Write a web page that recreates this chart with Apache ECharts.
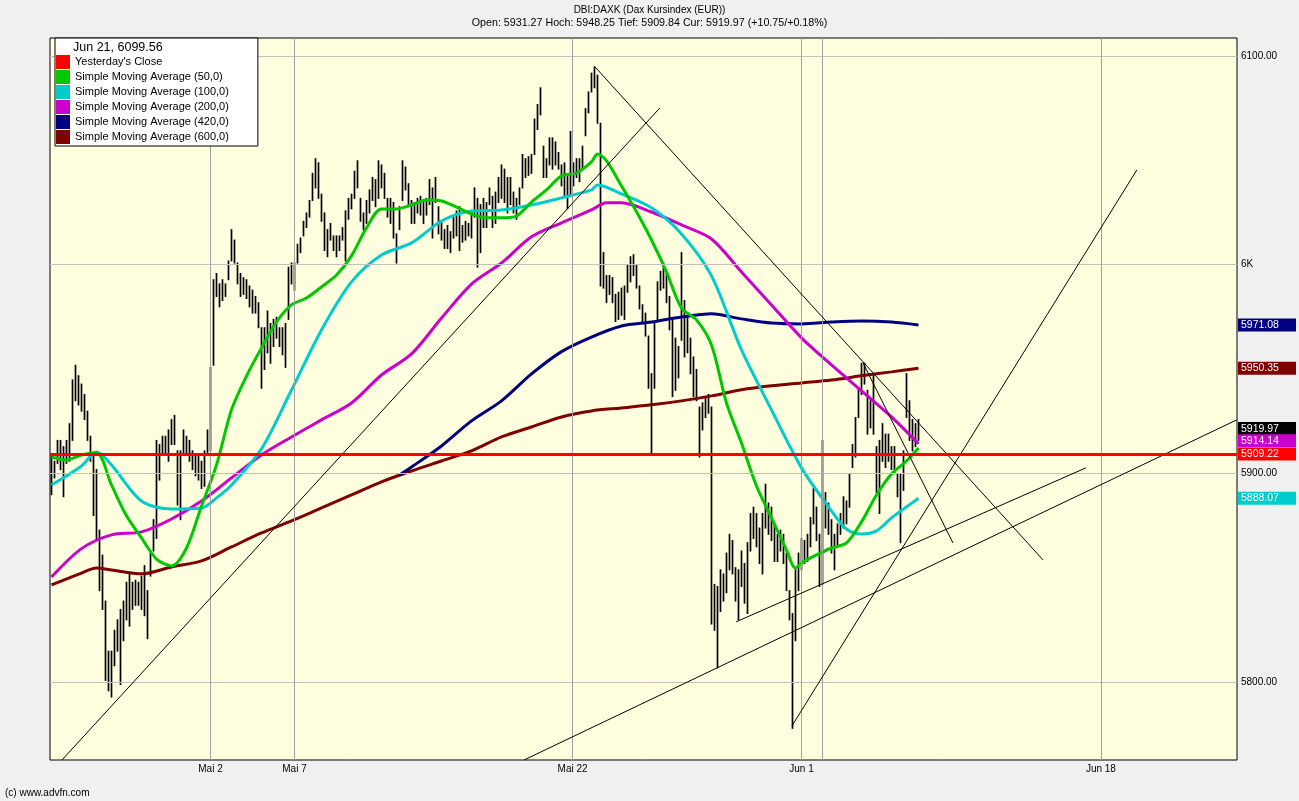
<!DOCTYPE html>
<html><head><meta charset="utf-8">
<script src="https://cdn.jsdelivr.net/npm/echarts@6/dist/echarts.min.js"></script>
<style>html,body{margin:0;padding:0;background:#f0f0f0;}#c{width:1299px;height:801px;}</style>
</head><body><div id="c"></div>
<script>
// ---------- DATA ----------
const chartTitle = 'DBI:DAXK (Dax Kursindex (EUR))';
const quoteLine = 'Open: 5931.27 Hoch: 5948.25 Tief: 5909.84 Cur: 5919.97 (+10.75/+0.18%)';
const legendHeader = 'Jun 21, 6099.56';
const footerText = '(c) www.advfn.com';

// hourly bars (index = bar number), high and low
const barHigh = [
5909,5906,5916,5916,5913,5916,5924,5945,5952,5947,
5943,5938,5930,5918,5909,5902,5873,5861,5839,5815,
5815,5825,5830,5835,5839,5848,5852,5848,5849,5848,
5851,5856,5844,5863,5878,5916,5914,5918,5918,5921,
5926,5928,5911,5911,5921,5918,5916,5911,5909,5909,
5906,5911,5921,5951,5993,5996,5991,5993,5991,6002,
6017,6012,6001,5996,5994,5993,5990,5988,5985,5982,
5970,5970,5978,5972,5974,5975,5970,5970,5972,5999,
6001,6001,6010,6013,6021,6025,6031,6044,6051,6049,
6034,6025,6017,6020,6014,6014,6014,6018,6026,6032,
6034,6045,6050,6032,6025,6031,6036,6042,6041,6050,
6048,6044,6032,6032,6030,6015,6028,6050,6047,6039,
6031,6030,6032,6033,6030,6032,6041,6037,6042,6028,
6021,6017,6019,6016,6023,6026,6028,6019,6021,6020,
6025,6037,6032,6029,6032,6030,6037,6033,6035,6042,
6048,6046,6042,6042,6035,6032,6037,6053,6051,6052,
6053,6070,6077,6085,6057,6051,6061,6061,6059,6054,
6048,6049,6043,6064,6049,6051,6051,6057,6075,6083,
6092,6095,6091,6068,6006,5995,5995,5994,5986,5987,
5989,5990,6000,6004,6005,6000,5990,5981,5977,5966,
5948,5973,5992,5997,6001,5996,5985,5974,5965,5961,
6006,5983,5975,5965,5956,5950,5932,5934,5937,5938,
5932,5847,5846,5854,5852,5862,5871,5868,5855,5854,
5863,5857,5867,5881,5884,5881,5874,5881,5895,5886,
5884,5876,5871,5873,5871,5862,5844,5833,5854,5862,
5869,5868,5871,5879,5893,5884,5871,5916,5891,5886,
5878,5871,5876,5881,5889,5887,5900,5914,5927,5941,
5953,5953,5940,5935,5948,5913,5916,5924,5919,5919,
5913,5913,5900,5900,5911,5948,5935,5926,5924,5926
];
const barLow = [
5890,5898,5905,5902,5889,5905,5906,5916,5935,5933,
5930,5926,5916,5906,5880,5868,5844,5835,5801,5796,
5793,5808,5815,5799,5820,5830,5827,5835,5837,5837,
5835,5832,5821,5851,5863,5869,5897,5909,5909,5906,
5914,5914,5885,5878,5909,5909,5906,5902,5899,5897,
5893,5894,5909,5911,5952,5985,5980,5983,5985,5993,
6002,6001,5991,5985,5986,5984,5980,5977,5977,5970,
5941,5950,5958,5953,5961,5965,5961,5957,5951,5974,
5991,5988,6001,6006,6014,6018,6023,6031,6037,6032,
6021,6007,6004,6012,6007,6004,6007,6012,6002,6022,
6027,6032,6037,6021,6017,6020,6025,6031,6028,6032,
6037,6032,6023,6020,6013,6001,6017,6031,6036,6028,
6020,6020,6025,6024,6020,6024,6029,6013,6030,6015,
6012,6008,6008,6006,6013,6014,6007,6011,6012,6014,
6013,6023,5999,6006,6018,6018,6029,6018,6020,6030,
6032,6030,6025,6029,6025,6022,6029,6037,6042,6043,
6044,6053,6065,6072,6042,6042,6048,6046,6048,6046,
6038,6033,6027,6033,6038,6042,6040,6046,6062,6073,
6083,6085,6068,5990,5989,5982,5986,5982,5973,5974,
5976,5974,5987,5992,5995,5989,5979,5973,5966,5941,
5910,5941,5973,5988,5989,5982,5969,5937,5940,5946,
5964,5956,5958,5948,5937,5935,5908,5921,5927,5929,
5828,5825,5807,5834,5839,5843,5854,5852,5839,5830,
5846,5838,5833,5863,5869,5865,5857,5852,5874,5871,
5868,5858,5858,5863,5857,5844,5830,5778,5820,5844,
5854,5857,5858,5865,5876,5868,5846,5847,5874,5871,
5862,5854,5865,5871,5874,5876,5884,5903,5908,5927,
5938,5943,5919,5922,5919,5891,5881,5906,5903,5906,
5902,5900,5889,5867,5892,5927,5916,5911,5913,5916
];

const sma50Idx = [0,5,10,15,20,25,30,35,40,45,50,55,60,65,70,75,80,85,90,95,100,105,110,115,120,125,130,135,140,145,150,155,160,165,170,175,180,182,185,190,195,200,205,210,215,220,225,230,235,240,245,248,250,255,260,265,270,275,280,285,289];
const sma50 = [5907.8,5906.4,5908.8,5909.8,5894.4,5879.6,5869.0,5858.9,5855.6,5864.2,5884.3,5904.0,5930.4,5946.6,5960.1,5972.5,5980.7,5984.0,5989.3,5995.0,6004.2,6017.6,6026.7,6026.7,6028.6,6031.0,6030.5,6027.6,6024.3,6022.4,6022.4,6023.3,6030.0,6035.8,6042.5,6043.9,6049.2,6053.0,6049.7,6037.7,6025.3,6011.8,5996.5,5979.2,5973.5,5961.5,5933.7,5914.5,5893.9,5878.6,5863.3,5854.6,5857.0,5860.9,5864.2,5866.6,5876.7,5889.6,5899.7,5905.9,5912.1];

const sma100Idx = [0,10,15,20,30,40,50,55,60,70,80,90,100,110,120,130,140,150,160,170,180,182,190,200,210,220,230,240,250,260,265,270,275,280,285,289];
const sma100 = [5894.4,5903.5,5910.2,5904.0,5886.7,5882.9,5883.4,5888.2,5894.4,5911.7,5939.9,5968.7,5991.7,6004.6,6010.4,6020.9,6025.7,6026.2,6028.6,6032.0,6035.8,6038.2,6033.9,6027.2,6014.7,5994.6,5959.1,5930.4,5902.6,5882.0,5873.3,5870.9,5872.4,5878.6,5883.9,5888.07];

const sma200Idx = [0,10,20,30,40,50,60,70,80,90,100,110,120,130,140,150,160,170,180,185,190,200,210,220,230,240,250,260,270,280,289];
const sma200 = [5850.3,5863.9,5870.5,5871.9,5878.1,5886.7,5897.8,5908.8,5917.4,5925.6,5933.7,5947.1,5957.2,5974.4,5990.7,6000.8,6013.3,6020.0,6026.2,6029.6,6029.6,6025.2,6019.0,6012.3,5996.5,5980.7,5964.9,5951.9,5939.5,5927.0,5914.14];

const sma420Idx = [116,120,130,140,150,160,170,180,190,200,210,220,230,240,250,260,270,280,289];
const sma420 = [5899.2,5903.0,5913.1,5925.1,5934.7,5947.6,5958.3,5965.3,5970.6,5972.5,5974.9,5976.4,5974.0,5972.0,5971.6,5972.5,5973.0,5972.5,5971.08];

const sma600Idx = [0,10,15,20,30,40,50,60,70,80,90,100,110,120,130,140,150,160,170,180,190,200,210,220,230,240,250,260,270,280,289];
const sma600 = [5846.5,5852.2,5854.6,5853.7,5851.8,5855.1,5858.0,5864.7,5871.4,5877.2,5883.4,5889.6,5895.9,5901.1,5905.9,5910.7,5917.4,5922.2,5927.0,5929.9,5931.3,5932.8,5934.7,5937.1,5940.0,5941.9,5943.3,5944.7,5946.7,5948.6,5950.35];

const prevClose = 5909.22;
const lastPrice = 5919.97;

// hand-drawn trend lines (bar index / price)
const trendStartBar   = [3.5, 181.2, 270.5, 246.8, 228.2, 157.5];
const trendStartPrice = [5762.6, 6094.7, 5952.9, 5778.9, 5828.8, 5762.6];
const trendEndBar     = [202.8, 330.5, 300.5, 361.8, 344.8, 395.1];
const trendEndPrice   = [6075.1, 5858.5, 5866.6, 6045.4, 5902.6, 5925.6];

// axis ticks
const yTicks = [5800, 5900, 6000, 6100];
const dayStartBars = [53, 81, 173.7, 250, 257, 349.8];
const dayLabels = ['Mai 2', 'Mai 7', 'Mai 22', 'Jun 1', '', 'Jun 18'];

// right-hand value tags
const tagValues = [5971.08, 5950.35, lastPrice, 5914.14, prevClose, 5888.07];
const tagColors = ['#000080', '#800000', '#000000', '#cc00cc', '#ff0000', '#00cccc'];
const tagShift  = [0, 0, -3, -3, 0, 0];

const names = ["Yesterday's Close", 'Simple Moving Average (50,0)', 'Simple Moving Average (100,0)',
  'Simple Moving Average (200,0)', 'Simple Moving Average (420,0)', 'Simple Moving Average (600,0)'];
const maColors = ['#00c800', '#00cccc', '#cc00cc', '#000080', '#800000'];

// ---------- CHART ----------
const FONT = 'Liberation Sans, Arial, sans-serif';
const xMin = -0.5, xMax = 395.17, yMin = 5762.6, yMax = 6108.6;
const pairs = (idx, vals) => idx.map((x, k) => [x, vals[k]]);

function maSeries(name, color, idx, vals) {
  return { name, type: 'line', data: pairs(idx, vals), showSymbol: false, smooth: 0.3, z: 3,
    lineStyle: { color, width: 3 }, itemStyle: { color }, silent: true };
}

const labelBars = dayStartBars.filter((b, k) => dayLabels[k] !== '');

const chart = echarts.init(document.getElementById('c'), null, { width: 1299, height: 801 });
chart.setOption({
  animation: false,
  backgroundColor: '#f0f0f0',
  textStyle: { fontFamily: FONT },
  title: [
    { text: chartTitle, left: 'center', top: 5, padding: 0, textStyle: { fontSize: 10, fontWeight: 'normal', color: '#000', fontFamily: FONT } },
    { text: quoteLine, left: 'center', top: 18, padding: 0, textStyle: { fontSize: 10.7, fontWeight: 'normal', color: '#000', fontFamily: FONT } },
    { text: legendHeader, left: 73, top: 41, padding: 0, z: 20, textStyle: { fontSize: 12.5, fontWeight: 'normal', color: '#000', fontFamily: FONT } },
    { text: footerText, left: 5, top: 788, padding: 0, textStyle: { fontSize: 10, fontWeight: 'normal', color: '#000', fontFamily: FONT } }
  ],
  legend: {
    data: names, left: 55, top: 38, orient: 'vertical', icon: 'rect',
    itemWidth: 14, itemHeight: 14, itemGap: 1, selectedMode: false,
    padding: [17, 29, 2, 1], backgroundColor: '#fff', borderColor: '#000', borderWidth: 1, z: 10,
    textStyle: { fontSize: 11, color: '#000', fontFamily: FONT }
  },
  grid: { left: 50, right: 62, top: 38, bottom: 41, show: true, backgroundColor: '#ffffe0', borderColor: '#000', borderWidth: 1 },
  xAxis: {
    type: 'value', min: xMin, max: xMax,
    axisLine: { show: false }, axisTick: { show: false }, splitLine: { show: false },
    axisLabel: { customValues: labelBars, margin: 4, fontSize: 10, color: '#000', fontFamily: FONT,
      formatter: v => { const k = dayStartBars.findIndex(b => Math.abs(b - v) < 0.01); return k >= 0 ? dayLabels[k] : ''; } }
  },
  yAxis: {
    type: 'value', position: 'right', min: yMin, max: yMax,
    axisLine: { show: false }, splitLine: { show: false },
    axisTick: { show: true, customValues: yTicks, length: 3, lineStyle: { color: '#000' } },
    axisLabel: { customValues: yTicks, margin: 4, fontSize: 10, color: '#000', fontFamily: FONT,
      formatter: v => v === 6000 ? '6K' : v.toFixed(2) }
  },
  series: [
    { name: 'grid', type: 'line', data: [], z: 1, silent: true,
      markLine: { symbol: 'none', silent: true, label: { show: false }, animation: false,
        data: yTicks.map(v => ({ yAxis: v, lineStyle: { color: '#c0c0c0', width: 1, type: 'solid' } }))
          .concat(dayStartBars.map(v => ({ xAxis: v, lineStyle: { color: '#a0a0a0', width: 1, type: 'solid' } }))) } },
    { name: 'price', type: 'custom', z: 2, silent: true, clip: true,
      data: barHigh.map((h, i) => [i, h, barLow[i]]),
      encode: { x: 0, y: [1, 2] },
      renderItem: (params, api) => {
        const x = api.value(0);
        const a = api.coord([x, api.value(1)]);
        const b = api.coord([x, api.value(2)]);
        return { type: 'line', shape: { x1: a[0], y1: a[1], x2: b[0], y2: b[1] + 1 }, style: { stroke: '#000', lineWidth: 1.7 } };
      } },
    maSeries(names[5], maColors[4], sma600Idx, sma600),
    maSeries(names[4], maColors[3], sma420Idx, sma420),
    maSeries(names[3], maColors[2], sma200Idx, sma200),
    maSeries(names[2], maColors[1], sma100Idx, sma100),
    maSeries(names[1], maColors[0], sma50Idx, sma50),
    { name: 'trend', type: 'line', data: [], z: 4, silent: true,
      markLine: { symbol: 'none', silent: true, label: { show: false }, lineStyle: { color: '#000', width: 1, type: 'solid' },
        data: trendStartBar.map((b, k) => [{ coord: [b, trendStartPrice[k]] }, { coord: [trendEndBar[k], trendEndPrice[k]] }]) } },
    { name: names[0], type: 'line', data: [], z: 5, silent: true, itemStyle: { color: '#ff0000' }, lineStyle: { color: '#ff0000' },
      markLine: { symbol: 'none', silent: true, label: { show: false }, lineStyle: { color: '#ff0000', width: 3, type: 'solid' },
        data: [{ yAxis: prevClose }] } },
    { name: 'tags', type: 'line', data: [], z: 8, silent: true,
      markLine: { symbol: 'none', silent: true, lineStyle: { width: 0, color: 'rgba(0,0,0,0)' },
        label: { show: true, position: 'end', distance: 1, color: '#fff', fontSize: 10.5, fontFamily: FONT,
          padding: [1, 2, 0, 3], width: 53, height: 12, lineHeight: 12 },
        data: tagValues.map((v, k) => ({ yAxis: v, label: { backgroundColor: tagColors[k], offset: [0, tagShift[k]], formatter: v.toFixed(2) } })) } }
  ]
});
</script></body></html>
